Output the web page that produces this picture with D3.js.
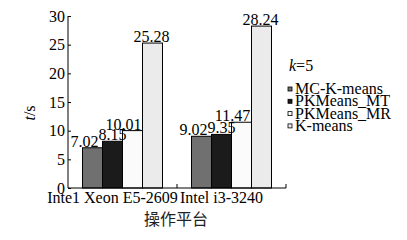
<!DOCTYPE html>
<html><head><meta charset="utf-8">
<script src="https://cdn.jsdelivr.net/npm/d3@7"></script>
<style>body{margin:0;background:#fff}</style>
</head><body>
<svg id="c" width="407" height="240"></svg>
<script>
const categories = ["Inte1 Xeon E5-2609", "Intel i3-3240"];
const series = ["MC-K-means", "PKMeans_MT", "PKMeans_MR", "K-means"];
const valuesMC = [7.02, 9.02];
const valuesMT = [8.15, 9.35];
const valuesMR = [10.01, 11.47];
const valuesKM = [25.28, 28.24];
const yTicks = [0, 5, 10, 15, 20, 25, 30];

(function () {
const seriesValues = [valuesMC, valuesMT, valuesMR, valuesKM];
const colors = ["#707070", "#1b1b1b", "#fbfbfb", "#ebebeb"];
const labelShift = [-8, 0, -9, -1];

const svg = d3.select("#c");
const serif = "'Liberation Serif','Times New Roman',serif";
const fs = 16;
const pL = 68, pR = 286, pT = 16, pB = 188;
const x = d3.scaleBand().domain(categories).range([pL, pR]).padding(0);
const groupW = 80;
const x1 = d3.scaleBand().domain(series).range([0, groupW]).padding(0);
const y = d3.scaleLinear().domain([0, 30]).range([pB, pT]);

categories.forEach((c, ci) => {
  const gx = x(c) + (x.bandwidth() - groupW) / 2;
  series.forEach((s, si) => {
    const v = seriesValues[si][ci];
    svg.append("rect")
      .attr("x", gx + x1(s)).attr("y", y(v))
      .attr("width", x1.bandwidth()).attr("height", y(0) - y(v))
      .attr("fill", colors[si]).attr("stroke", "#000").attr("stroke-width", 1);
  });
});
categories.forEach((c, ci) => {
  const gx = x(c) + (x.bandwidth() - groupW) / 2;
  series.forEach((s, si) => {
    const v = seriesValues[si][ci];
    svg.append("text")
      .attr("x", gx + x1(s) + x1.bandwidth() / 2 + labelShift[si])
      .attr("y", y(v) - 1)
      .attr("text-anchor", "middle")
      .attr("font-family", serif).attr("font-size", fs)
      .text(v.toFixed(2));
  });
});

const yAxis = d3.axisLeft(y).tickValues(yTicks).tickSize(-3).tickPadding(3).tickFormat(d3.format("d"));
const ga = svg.append("g").attr("transform", `translate(${pL},0)`).call(yAxis);
ga.select(".domain").attr("d", `M0,${pB}V${pT}`).attr("stroke", "#000");
ga.selectAll("text").attr("font-family", serif).attr("font-size", fs).attr("fill", "#000");

const xAxis = d3.axisBottom(x).tickSize(0).tickPadding(4);
const gxa = svg.append("g").attr("transform", `translate(0,${pB})`).call(xAxis);
gxa.select(".domain").attr("d", `M${pL},0H${pR}`).attr("stroke", "#000");
gxa.selectAll("text").attr("font-family", serif).attr("font-size", fs).attr("fill", "#000")
  .attr("dx", -10).attr("y", 15).attr("dy", 0);
const bounds = [x(categories[1]), pR];
svg.selectAll(".bt").data(bounds).enter().append("line")
  .attr("x1", d => d).attr("x2", d => d).attr("y1", pB).attr("y2", pB - 4)
  .attr("stroke", "#000");

svg.append("text").attr("x", (pL + pR) / 2 - 1).attr("y", 225)
  .attr("text-anchor", "middle").attr("font-family", "'Noto Sans CJK SC'").attr("font-size", 16)
  .attr("fill", "#222").text("操作平台");
const yt = svg.append("text").attr("transform", "translate(35,113) rotate(-90)")
  .attr("text-anchor", "middle").attr("font-family", serif).attr("font-size", fs);
yt.append("tspan").attr("font-style", "italic").text("t");
yt.append("tspan").text("/s");

const kt = svg.append("text").attr("x", 289).attr("y", 71).attr("font-family", serif).attr("font-size", fs);
kt.append("tspan").attr("font-style", "italic").text("k");
kt.append("tspan").text("=5");
const lg = svg.append("g");
series.forEach((s, i) => {
  const cy = 89 + i * 12.3;
  lg.append("rect").attr("x", 288).attr("y", cy - 2).attr("width", 4).attr("height", 4)
    .attr("fill", colors[i]).attr("stroke", "#000").attr("stroke-width", 0.8);
  lg.append("text").attr("x", 295).attr("y", cy + 5).attr("font-family", serif).attr("font-size", fs).text(s);
});
})();
</script>
</body></html>
